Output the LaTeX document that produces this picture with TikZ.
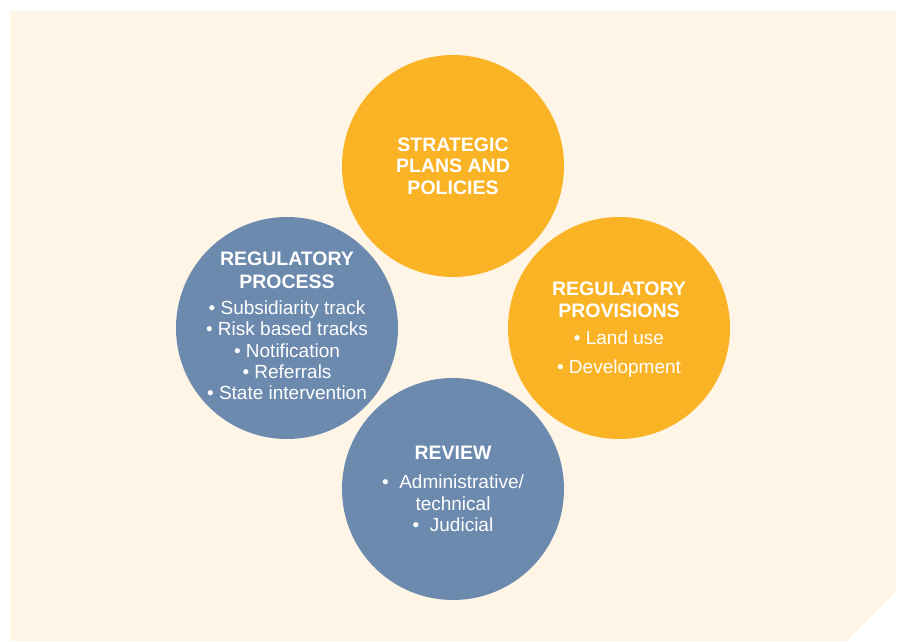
\documentclass[tikz,border=0pt]{standalone}
\usepackage{fontspec}
\setmainfont{Liberation Sans}
\definecolor{crema}{HTML}{FEF5E6}
\definecolor{naranja}{HTML}{FBB326}
\definecolor{azul}{HTML}{6C89AE}
\tikzset{
  circulo/.style={circle, minimum size=222pt, inner sep=0pt},
  texto/.style={text=white, align=center, inner sep=0pt, font=\fontsize{19}{21.3}\selectfont},
}
\newcommand{\titulo}[1]{{\bfseries\fontsize{19.5}{22.5}\selectfont #1}}
\begin{document}
\begin{tikzpicture}[x=1pt,y=1pt]
  \useasboundingbox (0,0) rectangle (901,641);
  \fill[crema] (10,0) -- (10,630) -- (896,630) -- (896,49) -- (847,0) -- cycle; % fondo
  \node[circulo, fill=naranja] (plans) at (453,475) {};
  \node[circulo, fill=naranja] (provisions) at (619,313) {};
  \node[circulo, fill=azul] (process) at (287,313) {};
  \node[circulo, fill=azul] (review) at (453,152) {};
  \node[texto] (plans-txt) at (plans)
    {\titulo{STRATEGIC}\\ \titulo{PLANS AND}\\ \titulo{POLICIES}};
  \node[texto] (provisions-txt) at ([yshift=-2pt]provisions)
    {\titulo{REGULATORY}\\ \titulo{PROVISIONS}\\[6pt] \textbullet\ Land use\\[8pt] \textbullet\ Development};
  \node[texto] (process-txt) at ([yshift=2pt]process)
    {\titulo{REGULATORY}\\[1.5pt] \titulo{PROCESS}\\[5pt] \textbullet\ Subsidiarity track\\ \textbullet\ Risk based tracks\\
     \textbullet\ Notification\\ \textbullet\ Referrals\\ \textbullet\ State intervention};
  \node[texto] (review-txt) at (review)
    {\titulo{REVIEW}\\[8pt] \textbullet\ \ Administrative/\\ technical\\ \textbullet\ \ Judicial};
\end{tikzpicture}
\end{document}
